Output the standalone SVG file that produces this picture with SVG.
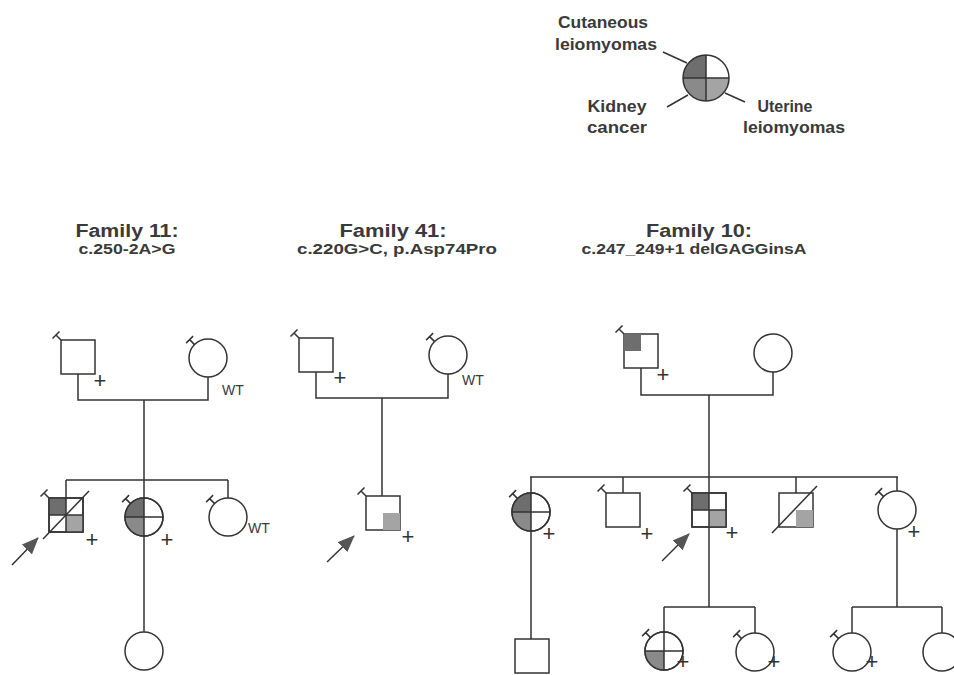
<svg xmlns="http://www.w3.org/2000/svg" width="954" height="675" viewBox="0 0 954 675">
<style>
.ln{fill:none;stroke:#333;stroke-width:1.5}
.sym{fill:#fff;stroke:#333;stroke-width:1.5}
.dk{fill:#6e6e6e;stroke:none}
.md{fill:#8a8a8a;stroke:none}
.lt{fill:#a4a4a4;stroke:none}
.t{font-family:"Liberation Sans",Arial,sans-serif;fill:#3a3a3a}
.ttl{font-size:18px;font-weight:bold}
.sub{font-size:15px;font-weight:bold}
.leg{font-size:16px;font-weight:bold}
.pl{font-size:22px;text-anchor:middle;fill:#333}
.wt{font-size:14px}
</style>
<defs>
<path id="tkc" class="ln" d="M-13.4,-13.4 l-5,-5 m-3.5,3.5 l7,-7"/>
<path id="tks" class="ln" d="M-17,-17 l-5,-5 m-3.5,3.5 l7,-7"/>
<path id="ctl" d="M0,0 L-19,0 A19,19 0 0 1 0,-19 Z"/>
<path id="cbl" d="M0,0 L0,19 A19,19 0 0 1 -19,0 Z"/>
<path id="cbr" d="M0,0 L19,0 A19,19 0 0 1 0,19 Z"/>
<path id="ccross" class="ln" d="M-19,0 H19 M0,-19 V19"/>
<path id="scross" class="ln" d="M-17,0 H17 M0,-17 V17"/>
<marker id="ah" markerUnits="userSpaceOnUse" markerWidth="18" markerHeight="14" refX="16" refY="7" orient="auto">
<path d="M0,0 L17,7 L0,14 Z" fill="#555"/>
</marker>
</defs>

<g id="legend">
<path class="dk" d="M706,78 L683,78 A23,23 0 0 1 706,55 Z"/>
<path class="md" d="M706,78 L706,101 A23,23 0 0 1 683,78 Z"/>
<path class="lt" d="M706,78 L729,78 A23,23 0 0 1 706,101 Z"/>
<circle cx="706" cy="78" r="23" fill="none" stroke="#333" stroke-width="1.5"/>
<path class="ln" d="M683,78 H729 M706,55 V101"/>
<path class="ln" d="M663,52 L687,63 M667,107 L688,95 M725,93 L745,102"/>
<text class="t leg" x="603" y="28" text-anchor="middle" textLength="90" lengthAdjust="spacingAndGlyphs">Cutaneous</text>
<text class="t leg" x="606" y="50" text-anchor="middle" textLength="102" lengthAdjust="spacingAndGlyphs">leiomyomas</text>
<text class="t leg" x="617" y="112" text-anchor="middle" textLength="59" lengthAdjust="spacingAndGlyphs">Kidney</text>
<text class="t leg" x="617" y="133" text-anchor="middle" textLength="60" lengthAdjust="spacingAndGlyphs">cancer</text>
<text class="t leg" x="785" y="112" text-anchor="middle" textLength="55" lengthAdjust="spacingAndGlyphs">Uterine</text>
<text class="t leg" x="794" y="133" text-anchor="middle" textLength="102" lengthAdjust="spacingAndGlyphs">leiomyomas</text>
</g>

<g id="titles">
<text class="t ttl" x="127" y="237" text-anchor="middle" textLength="103" lengthAdjust="spacingAndGlyphs">Family 11:</text>
<text class="t sub" x="127" y="254" text-anchor="middle" textLength="97" lengthAdjust="spacingAndGlyphs">c.250-2A&gt;G</text>
<text class="t ttl" x="393" y="237" text-anchor="middle" textLength="107" lengthAdjust="spacingAndGlyphs">Family 41:</text>
<text class="t sub" x="397" y="254" text-anchor="middle" textLength="200" lengthAdjust="spacingAndGlyphs">c.220G&gt;C, p.Asp74Pro</text>
<text class="t ttl" x="699" y="237" text-anchor="middle" textLength="106" lengthAdjust="spacingAndGlyphs">Family 10:</text>
<text class="t sub" x="694" y="254" text-anchor="middle" textLength="225" lengthAdjust="spacingAndGlyphs">c.247_249+1 delGAGGinsA</text>
</g>

<g id="connectors">
<path class="ln" d="M78,374 V400 H208 V377 M144,400 V498 M66,480 H228 M66,480 V498 M228,480 V498 M144,536 V632"/>
<path class="ln" d="M316,372 V398 H448 V374 M382,398 V496"/>
<path class="ln" d="M641,368 V395 H773 V372 M709,395 V493 M530,477 H898 M531,477 V493 M623,477 V493 M796,477 V493 M897,477 V491 M531,531 V639 M709,527 V607 M664,607 H755 M664,607 V632 M755,607 V633 M897,529 V607 M852,607 H942 M852,607 V633 M942,607 V633"/>
<path class="ln" d="M12,565 L38,538" marker-end="url(#ah)"/>
<path class="ln" d="M327,562 L354,536" marker-end="url(#ah)"/>
<path class="ln" d="M662,561 L689,534" marker-end="url(#ah)"/>
</g>

<g id="f11-father" transform="translate(78,357)">
<rect class="sym" x="-17" y="-17" width="34" height="34"/>
<use href="#tks"/>
<text class="t pl" x="22" y="31">+</text>
</g>
<g id="f11-mother" transform="translate(208,358)">
<circle class="sym" r="19"/>
<use href="#tkc"/>
<text class="t wt" x="14" y="37">WT</text>
</g>
<g id="f11-proband" transform="translate(66,515)">
<rect class="sym" x="-17" y="-17" width="34" height="34"/>
<rect class="dk" x="-17" y="-17" width="17" height="17"/>
<rect class="lt" x="0" y="0" width="17" height="17"/>
<use href="#scross"/>
<rect x="-17" y="-17" width="34" height="34" fill="none" stroke="#333" stroke-width="1.5"/>
<path class="ln" d="M-23,24 L23,-24"/>
<use href="#tks"/>
<text class="t pl" x="26" y="32">+</text>
</g>
<g id="f11-daughter" transform="translate(144,517)">
<circle class="sym" r="19"/>
<use href="#ctl" class="dk"/>
<use href="#cbl" class="md"/>
<use href="#ccross"/>
<circle r="19" fill="none" stroke="#333" stroke-width="1.5"/>
<use href="#tkc"/>
<text class="t pl" x="23" y="30">+</text>
</g>
<g id="f11-sister" transform="translate(228,517)">
<circle class="sym" r="19"/>
<use href="#tkc"/>
<text class="t wt" x="20" y="16">WT</text>
</g>
<g id="f11-granddaughter" transform="translate(144,651)">
<circle class="sym" r="19"/>
</g>

<g id="f41-father" transform="translate(316,355)">
<rect class="sym" x="-17" y="-17" width="34" height="34"/>
<use href="#tks"/>
<text class="t pl" x="24" y="30">+</text>
</g>
<g id="f41-mother" transform="translate(448,355)">
<circle class="sym" r="19"/>
<use href="#tkc"/>
<text class="t wt" x="14" y="30">WT</text>
</g>
<g id="f41-proband" transform="translate(383,513)">
<rect class="sym" x="-17" y="-17" width="34" height="34"/>
<rect class="lt" x="0" y="0" width="17" height="17" stroke="#333" stroke-width="1.5"/>
<use href="#tks"/>
<text class="t pl" x="25" y="31">+</text>
</g>

<g id="f10-father" transform="translate(641,351)">
<rect class="sym" x="-17" y="-17" width="34" height="34"/>
<rect class="dk" x="-17" y="-17" width="17" height="17" stroke="#333" stroke-width="1.5"/>
<use href="#tks"/>
<text class="t pl" x="22" y="31">+</text>
</g>
<g id="f10-mother" transform="translate(773,353)">
<circle class="sym" r="19"/>
</g>
<g id="f10-child1" transform="translate(531,512)">
<circle class="sym" r="19"/>
<use href="#ctl" class="dk"/>
<use href="#cbl" class="md"/>
<use href="#ccross"/>
<circle r="19" fill="none" stroke="#333" stroke-width="1.5"/>
<use href="#tkc"/>
<text class="t pl" x="18" y="29">+</text>
</g>
<g id="f10-grandson1" transform="translate(532,656)">
<rect class="sym" x="-17" y="-17" width="34" height="34"/>
</g>
<g id="f10-child2" transform="translate(623,510)">
<rect class="sym" x="-17" y="-17" width="34" height="34"/>
<use href="#tks"/>
<text class="t pl" x="24" y="31">+</text>
</g>
<g id="f10-proband" transform="translate(709,510)">
<rect class="sym" x="-17" y="-17" width="34" height="34"/>
<rect class="dk" x="-17" y="-17" width="17" height="17"/>
<rect class="lt" x="0" y="0" width="17" height="17"/>
<use href="#scross"/>
<rect x="-17" y="-17" width="34" height="34" fill="none" stroke="#333" stroke-width="1.5"/>
<use href="#tks"/>
<text class="t pl" x="23" y="30">+</text>
</g>
<g id="f10-child4" transform="translate(796,510)">
<rect class="sym" x="-17" y="-17" width="34" height="34"/>
<rect class="lt" x="0" y="0" width="17" height="17" stroke="#333" stroke-width="1.5"/>
<path class="ln" d="M-24,23 L21,-24"/>
</g>
<g id="f10-child5" transform="translate(897,510)">
<circle class="sym" r="19"/>
<use href="#tkc"/>
<text class="t pl" x="17" y="29">+</text>
</g>
<g id="f10-gc-a" transform="translate(664,651)">
<circle class="sym" r="19"/>
<use href="#cbl" class="md"/>
<use href="#ccross"/>
<circle r="19" fill="none" stroke="#333" stroke-width="1.5"/>
<use href="#tkc"/>
<text class="t pl" x="19" y="18">+</text>
</g>
<g id="f10-gc-b" transform="translate(755,652)">
<circle class="sym" r="19"/>
<use href="#tkc"/>
<text class="t pl" x="19" y="17">+</text>
</g>
<g id="f10-gc-c" transform="translate(852,652)">
<circle class="sym" r="19"/>
<use href="#tkc"/>
<text class="t pl" x="20" y="17">+</text>
</g>
<g id="f10-gc-d" transform="translate(942,652)">
<circle class="sym" r="19"/>
</g>
</svg>
